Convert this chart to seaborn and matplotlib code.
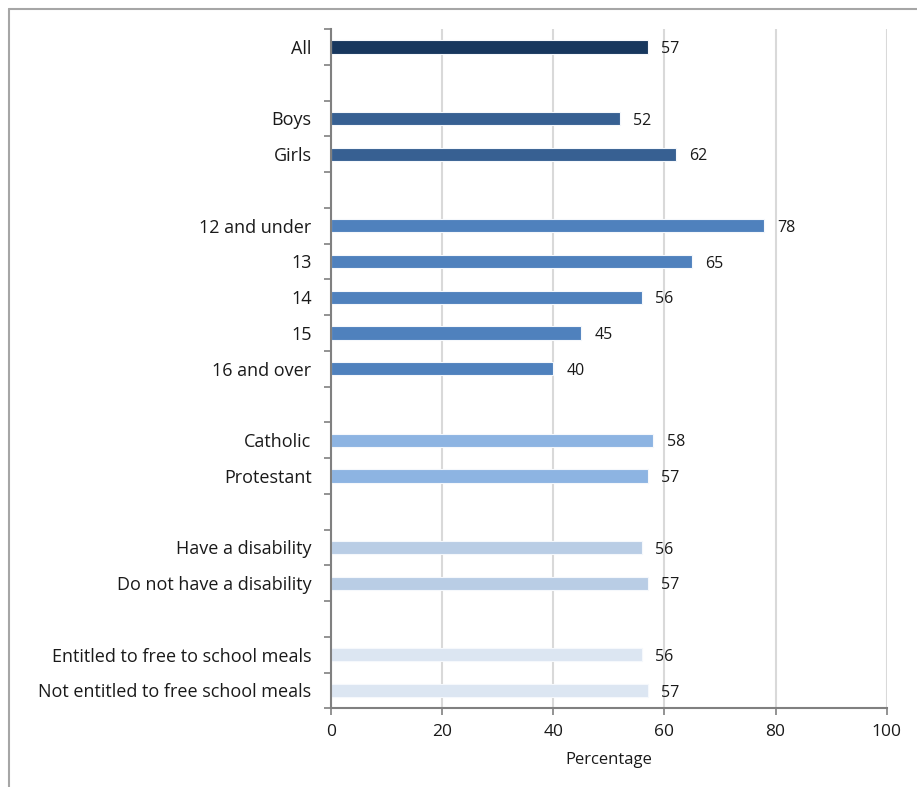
import matplotlib
matplotlib.use("Agg")
import matplotlib.pyplot as plt
import seaborn as sns
import pandas as pd
import numpy as np
from matplotlib.lines import Line2D
from matplotlib.ticker import FixedLocator

# chart data
groups = [
    ["All"],
    ["Boys", "Girls"],
    ["12 and under", "13", "14", "15", "16 and over"],
    ["Catholic", "Protestant"],
    ["Have a disability", "Do not have a disability"],
    ["Entitled to free to school meals", "Not entitled to free school meals"],
]
values = [
    [57],
    [52, 62],
    [78, 65, 56, 45, 40],
    [58, 57],
    [56, 57],
    [56, 57],
]
group_colors = ["#17375E", "#376092", "#4F81BD", "#8DB4E2", "#B9CDE5", "#DCE6F2"]

labels, vals, palette, order = [], [], {}, []
for i, (g, v, c) in enumerate(zip(groups, values, group_colors)):
    if i > 0:
        order.append(" " * i)  # blank slot between groups
    for lab, val in zip(g, v):
        labels.append(lab)
        vals.append(val)
        palette[lab] = c
        order.append(lab)

df = pd.DataFrame({"group": labels, "pct": vals})

sns.set_style("white")
plt.rcParams["font.family"] = ["Open Sans", "DejaVu Sans"]

fig = plt.figure(figsize=(9.17, 7.87), dpi=100)
ax = fig.add_axes([0.361, 0.100, 0.606, 0.863])

sns.barplot(data=df, y="group", x="pct", hue="group", order=order,
            palette=palette, saturation=1, legend=False, width=0.37, ax=ax,
            edgecolor="#F5F8FC", linewidth=0.8)

for cont in ax.containers:
    for t in ax.bar_label(cont, fmt="%d", padding=9, fontsize=11.5, color="#1a1a1a"):
        t.xyann = (9.5, -1.5)

ax.set_xlim(0, 100)
ax.set_ylim(len(order) - 0.5, -0.5)
ax.set_xticks([0, 20, 40, 60, 80, 100])
ax.xaxis.grid(True, color="#D9D9D9", linewidth=1.5)
ax.set_axisbelow(True)

ax.yaxis.set_minor_locator(FixedLocator(np.arange(-0.5, len(order), 1)))
ax.tick_params(axis="y", which="major", length=0, pad=14, labelsize=13, labelcolor="#1a1a1a")
ax.tick_params(axis="y", which="minor", length=5, width=1.2, color="#808080", left=True)
ax.tick_params(axis="x", length=5, width=1.2, color="#808080", labelsize=12.5,
               labelcolor="#1a1a1a", bottom=True, pad=6)

for s in ["top", "right"]:
    ax.spines[s].set_visible(False)
for s in ["left", "bottom"]:
    ax.spines[s].set_color("#808080")
    ax.spines[s].set_linewidth(1.5)

ax.set_ylabel("")
ax.set_xlabel("Percentage", fontsize=12, color="#1a1a1a", labelpad=9)

# outer frame (left and top edge visible)
fig.add_artist(Line2D([9 / 917, 9 / 917], [0, 1 - 9 / 787], color="#A6A6A6", lw=1.5, transform=fig.transFigure))
fig.add_artist(Line2D([9 / 917, 1], [1 - 9 / 787, 1 - 9 / 787], color="#A6A6A6", lw=1.5, transform=fig.transFigure))

fig.savefig("out.png", dpi=100)
